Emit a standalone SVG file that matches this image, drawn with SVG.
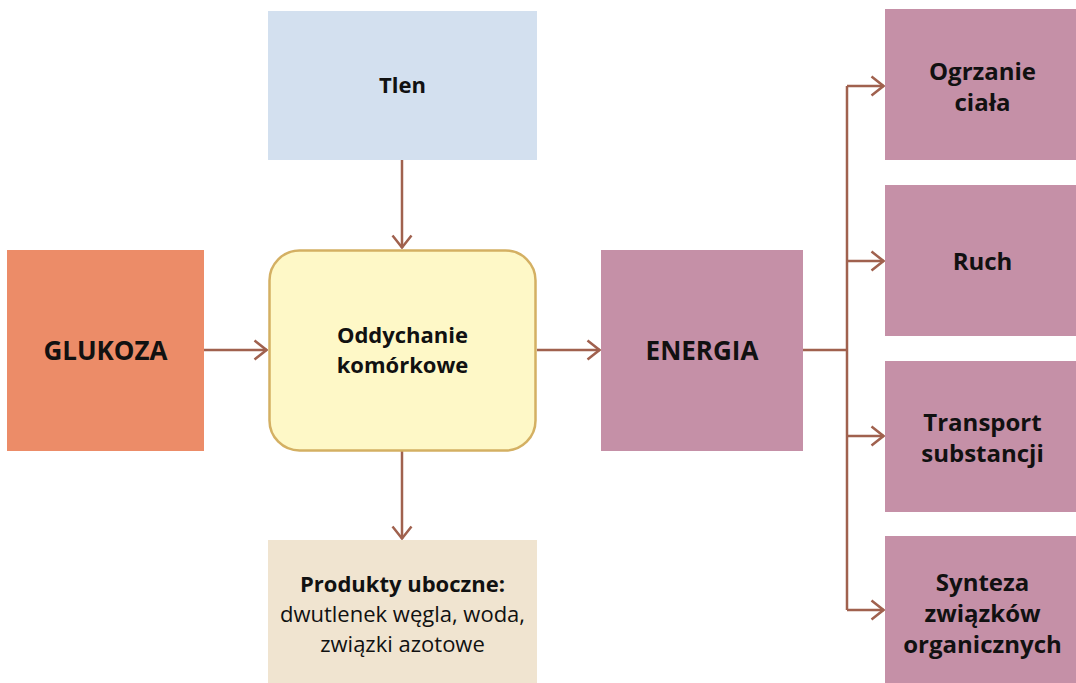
<svg xmlns="http://www.w3.org/2000/svg" width="1076" height="683" viewBox="0 0 1076 683">
<defs>
<style>
.t{font-family:"Open Sans","Noto Sans","Liberation Sans",sans-serif;fill:#111;text-anchor:middle}
.b{font-weight:bold}
.pink{fill:#C590A7}
.conn{stroke:#A0614E;stroke-width:2.5;fill:none}
</style>
<marker id="arr" viewBox="0 0 15 22" refX="14" refY="11" markerWidth="15" markerHeight="22" markerUnits="userSpaceOnUse" orient="auto">
<path d="M1.5,1.5 L13.5,11 L1.5,20.5" fill="none" stroke="#A0614E" stroke-width="2.5"/>
</marker>
</defs>
<rect width="1076" height="683" fill="#fff"/>
<g id="connectors">
<line class="conn" x1="402" y1="160" x2="402" y2="248" marker-end="url(#arr)"/>
<line class="conn" x1="402" y1="451" x2="402" y2="539" marker-end="url(#arr)"/>
<line class="conn" x1="204" y1="350" x2="267" y2="350" marker-end="url(#arr)"/>
<line class="conn" x1="537" y1="350" x2="600" y2="350" marker-end="url(#arr)"/>
<polyline class="conn" points="803,350 847,350"/>
<line class="conn" x1="847" y1="86" x2="847" y2="610"/>
<line class="conn" x1="847" y1="86" x2="884" y2="86" marker-end="url(#arr)"/>
<line class="conn" x1="847" y1="261" x2="884" y2="261" marker-end="url(#arr)"/>
<line class="conn" x1="847" y1="436" x2="884" y2="436" marker-end="url(#arr)"/>
<line class="conn" x1="847" y1="610" x2="884" y2="610" marker-end="url(#arr)"/>
</g>
<g id="glukoza">
<rect x="7" y="250" width="197" height="201" fill="#EC8C68"/>
<text class="t b" x="105.5" y="360" font-size="26">GLUKOZA</text>
</g>
<g id="tlen">
<rect x="268" y="11" width="269" height="149" fill="#D3E0EF"/>
<text class="t b" x="402.5" y="93" font-size="22">Tlen</text>
</g>
<g id="oddychanie">
<rect x="269.5" y="250.5" width="266" height="200" rx="30" fill="#FEF8C7" stroke="#D4B063" stroke-width="2.5"/>
<text class="t b" x="402.5" y="343" font-size="22">Oddychanie</text>
<text class="t b" x="402.5" y="373" font-size="22">komórkowe</text>
</g>
<g id="produkty">
<rect x="268" y="540" width="269" height="143" fill="#F0E4D0"/>
<text class="t b" x="402.5" y="592" font-size="22">Produkty uboczne:</text>
<text class="t" x="402.5" y="622" font-size="22">dwutlenek węgla, woda,</text>
<text class="t" x="402.5" y="652" font-size="22">związki azotowe</text>
</g>
<g id="energia">
<rect x="601" y="250" width="202" height="201" class="pink"/>
<text class="t b" x="702" y="360" font-size="26">ENERGIA</text>
</g>
<g id="ogrzanie">
<rect x="885" y="9" width="191" height="151" class="pink"/>
<text class="t b" x="982.5" y="80" font-size="24">Ogrzanie</text>
<text class="t b" x="982.5" y="111" font-size="24">ciała</text>
</g>
<g id="ruch">
<rect x="885" y="185" width="191" height="151" class="pink"/>
<text class="t b" x="982.5" y="270" font-size="24">Ruch</text>
</g>
<g id="transport">
<rect x="885" y="361" width="191" height="151" class="pink"/>
<text class="t b" x="982.5" y="431" font-size="24">Transport</text>
<text class="t b" x="982.5" y="462" font-size="24">substancji</text>
</g>
<g id="synteza">
<rect x="885" y="536" width="191" height="147" class="pink"/>
<text class="t b" x="982.5" y="591" font-size="24">Synteza</text>
<text class="t b" x="982.5" y="622" font-size="24">związków</text>
<text class="t b" x="982.5" y="653" font-size="24">organicznych</text>
</g>
</svg>
